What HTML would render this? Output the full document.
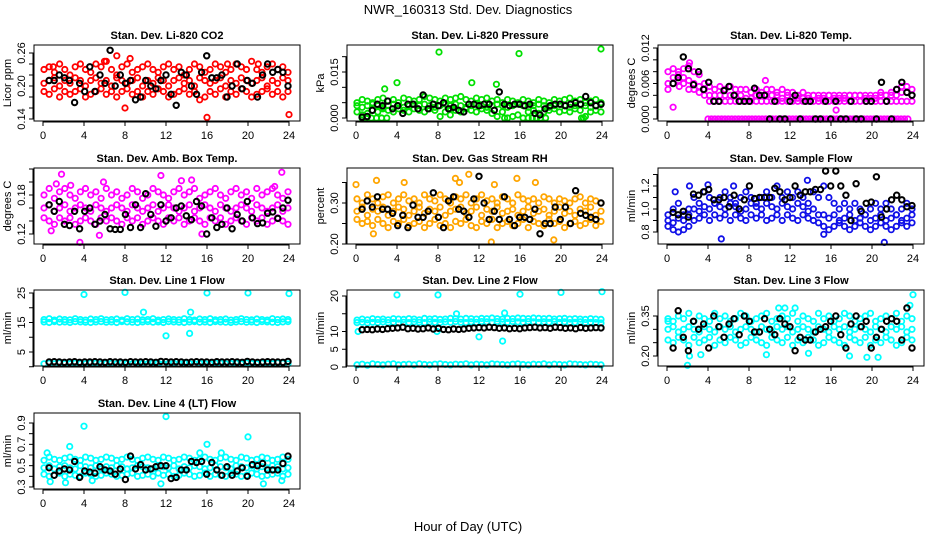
<!DOCTYPE html>
<html><head><meta charset="utf-8"><style>
html,body{margin:0;padding:0;background:#fff;}
svg{display:block;font-family:"Liberation Sans",sans-serif;}
</style></head><body>
<svg id="chart" width="936" height="540" viewBox="0 0 936 540" xmlns="http://www.w3.org/2000/svg">
<rect x="0" y="0" width="936" height="540" fill="#fff"/>
<text x="468" y="14" font-size="13" text-anchor="middle">NWR_160313  Std. Dev. Diagnostics</text>
<text x="468" y="531" font-size="13" text-anchor="middle">Hour of Day (UTC)</text>
</svg>
<script>
const xTicks = [0,4,8,12,16,20,24];

const co2Hi = [0.23,0.235,0.225,0.24,0.23,0.22,0.235,0.24,0.23,0.225,0.24,0.235,0.245,0.23,0.22,0.235,0.24,0.225,0.23,0.235,0.24,0.23,0.225,0.235,0.24,0.23,0.235,0.22,0.23,0.24,0.235,0.225,0.23,0.24,0.235,0.225,0.23,0.24,0.235,0.23,0.245,0.23,0.225,0.235,0.24,0.23,0.235,0.225];
const co2Mid = [0.205,0.21,0.215,0.2,0.21,0.205,0.215,0.21,0.2,0.21,0.215,0.205,0.21,0.2,0.215,0.21,0.205,0.21,0.215,0.2,0.21,0.205,0.215,0.21,0.2,0.21,0.215,0.205,0.21,0.2,0.215,0.21,0.205,0.21,0.215,0.2,0.21,0.205,0.215,0.21,0.205,0.21,0.215,0.2,0.21,0.205,0.215,0.21];
const co2Lo = [0.19,0.185,0.195,0.18,0.19,0.185,0.19,0.195,0.18,0.185,0.19,0.195,0.185,0.19,0.18,0.19,0.195,0.185,0.19,0.18,0.19,0.185,0.195,0.19,0.18,0.185,0.19,0.195,0.185,0.19,0.175,0.18,0.19,0.185,0.195,0.18,0.19,0.185,0.195,0.19,0.18,0.185,0.19,0.195,0.185,0.19,0.18,0.19];
const co2OutX = [16,24,8,7.2,6,8.5,1,21,18];
const co2OutY = [0.143,0.148,0.16,0.255,0.245,0.25,0.235,0.24,0.24];
const co2Ref = [0.21,0.21,0.22,0.215,0.21,0.17,0.205,0.19,0.235,0.19,0.22,0.205,0.265,0.2,0.22,0.205,0.21,0.175,0.18,0.21,0.2,0.195,0.21,0.22,0.185,0.165,0.225,0.22,0.2,0.185,0.225,0.255,0.215,0.215,0.22,0.18,0.2,0.24,0.195,0.21,0.205,0.18,0.22,0.24,0.225,0.23,0.225,0.2];

const presHi = [0.005,0.006,0.0055,0.005,0.006,0.0065,0.0055,0.006,0.005,0.0065,0.006,0.0055,0.006,0.007,0.0065,0.006,0.0055,0.0065,0.006,0.0065,0.007,0.006,0.0055,0.0065,0.006,0.0065,0.0055,0.006,0.005,0.006,0.0055,0.005,0.006,0.0055,0.005,0.006,0.0055,0.005,0.006,0.0055,0.006,0.0065,0.0055,0.006,0.005,0.0055,0.006,0.005];
const presMid = [0.004,0.0035,0.004,0.0045,0.004,0.0035,0.004,0.0045,0.004,0.0035,0.004,0.0045,0.004,0.0045,0.004,0.0035,0.004,0.0045,0.004,0.0045,0.004,0.0035,0.004,0.0045,0.004,0.0035,0.004,0.0045,0.004,0.0035,0.004,0.0045,0.004,0.0035,0.004,0.0045,0.004,0.0035,0.004,0.0045,0.004,0.0035,0.004,0.0045,0.004,0.0035,0.004,0.0045];
const presLo = [0.002,0.001,0.0015,0.0025,0.002,0.003,0.0025,0.002,0.003,0.0025,0.002,0.003,0.0025,0.002,0.003,0.0025,0.0005,0.002,0.003,0.0025,0.002,0.003,0.0025,0.002,0.003,0.0025,0.0015,0.0005,0.002,0,0.0005,0.001,0,0.002,0.0025,0.0015,0.002,0.0025,0.003,0.002,0.0025,0.002,0.003,0.0025,0.0005,0.002,0.0025,0.002];
const presOutX = [0.6,1,1.5,2,2.5,3,14.5,16.8,17.2,17.6,18,18.5,22,22.2,8.1,15.9,23.9,4,11.3,13.7,2.8,9.2];
const presOutY = [0,0,0,0,0,0,0,0,0,0,0,0,0,0,0.0215,0.021,0.0225,0.0115,0.0115,0.011,0.0095,0.001];
const presRef = [0.0003,0.0005,0.0025,0.0045,0.004,0.0055,0.003,0.004,0.0015,0.0045,0.0045,0.003,0.0075,0.003,0.0045,0.004,0.005,0.003,0.0035,0.0025,0.002,0.0045,0.0045,0.004,0.0045,0.0045,0.0025,0.0085,0.0045,0.004,0.0045,0.0045,0.004,0.0045,0.0015,0.001,0.003,0.004,0.0045,0.0045,0.004,0.0045,0.005,0.0045,0.007,0.005,0.004,0.0045];

const tempHi = [0.008,0.0085,0.008,0.0085,0.009,0.008,0.0075,0.006,0.0055,0.005,0.0055,0.005,0.0055,0.005,0.005,0.005,0.0045,0.005,0.0045,0.005,0.005,0.0045,0.005,0.0045,0.0045,0.004,0.0045,0.004,0.004,0.004,0.004,0.004,0.004,0.004,0.004,0.004,0.004,0.004,0.004,0.004,0.004,0.0045,0.004,0.0045,0.005,0.0055,0.0055,0.005];
const tempMid = [0.006,0.007,0.0075,0.007,0.0065,0.006,0.0055,0.005,0.004,0.004,0.004,0.004,0.004,0.004,0.004,0.0035,0.0035,0.004,0.004,0.004,0.004,0.004,0.0035,0.004,0.0035,0.0035,0.0035,0.0035,0.004,0.0035,0.0035,0.004,0.0035,0.0035,0.0035,0.004,0.004,0.004,0.0035,0.0035,0.0035,0.004,0.004,0.004,0.004,0.0045,0.0045,0.004];
const tempLo = [0.005,0.006,0.0065,0.006,0.005,0.005,0.0045,0.004,0.003,0.003,0.003,0.003,0.003,0.003,0.003,0.003,0.003,0.003,0.003,0.003,0.003,0.003,0.003,0.003,0.003,0.003,0.003,0.003,0.003,0.003,0.003,0.003,0.003,0.003,0.003,0.003,0.003,0.003,0.003,0.003,0.003,0.003,0.003,0.003,0.003,0.003,0.003,0.003];
const tempZero = [0,0,0,0,0,0,0,0,0,0,0,0,0,0,0,0,0,0,0,0,0,0,0,0,0,0,0,0,0,0,0,0,0,0,0,0,0,0,0,0,0,0,0,0,0,0,0,0,0,0,0,0,0,0,0,0,0,0,0,0];
const tempOutX = [0.6,9.6,16.5,2.2,1.2];
const tempOutY = [0.002,0.0065,0.0015,0.0095,0.0055];
const tempRef = [0.006,0.007,0.0105,0.0085,0.0058,0.008,0.005,0.0062,0.003,0.003,0.0048,0.0055,0.004,0.003,0.003,0.003,0.0052,0.004,0.004,0,0.003,0,0,0.003,0.004,0,0.003,0.003,0,0,0.003,0,0.003,0,0,0.003,0,0,0.003,0.003,0,0.0062,0.003,0,0.005,0.0062,0.0045,0.004];

const ambHi = [0.18,0.19,0.175,0.185,0.19,0.18,0.175,0.185,0.19,0.18,0.185,0.175,0.19,0.18,0.185,0.175,0.18,0.19,0.185,0.175,0.18,0.19,0.185,0.18,0.175,0.185,0.19,0.18,0.185,0.19,0.175,0.18,0.185,0.19,0.18,0.175,0.185,0.19,0.18,0.185,0.175,0.19,0.18,0.185,0.19,0.18,0.175,0.185];
const ambMid = [0.16,0.165,0.155,0.16,0.165,0.155,0.16,0.165,0.16,0.155,0.165,0.16,0.155,0.16,0.165,0.16,0.155,0.165,0.16,0.155,0.16,0.165,0.155,0.16,0.165,0.16,0.155,0.16,0.165,0.155,0.16,0.165,0.16,0.155,0.165,0.16,0.155,0.16,0.165,0.16,0.155,0.165,0.16,0.155,0.16,0.165,0.155,0.16];
const ambLo = [0.145,0.14,0.135,0.145,0.14,0.145,0.135,0.14,0.145,0.14,0.135,0.145,0.14,0.145,0.14,0.135,0.145,0.14,0.145,0.135,0.14,0.145,0.14,0.135,0.145,0.14,0.145,0.135,0.14,0.145,0.14,0.135,0.145,0.14,0.145,0.135,0.14,0.145,0.14,0.135,0.145,0.14,0.145,0.135,0.14,0.145,0.14,0.135];
const ambOutX = [1.8,11.5,23.3,3.6,5.5,15.5,2.7,1.3,14.5,5.9,13.5,22.6,0.8];
const ambOutY = [0.212,0.21,0.215,0.107,0.118,0.12,0.195,0.197,0.203,0.2,0.202,0.193,0.125];
const ambRef = [0.165,0.155,0.17,0.135,0.133,0.155,0.128,0.155,0.16,0.135,0.14,0.15,0.128,0.127,0.127,0.15,0.13,0.165,0.13,0.182,0.15,0.132,0.165,0.14,0.145,0.16,0.163,0.148,0.142,0.17,0.163,0.12,0.145,0.13,0.135,0.16,0.128,0.15,0.14,0.17,0.145,0.136,0.137,0.152,0.154,0.144,0.16,0.172];

const rhHi = [0.31,0.3,0.32,0.31,0.3,0.315,0.32,0.3,0.31,0.32,0.305,0.31,0.3,0.32,0.31,0.305,0.32,0.31,0.3,0.315,0.31,0.32,0.3,0.31,0.32,0.305,0.31,0.3,0.315,0.31,0.3,0.32,0.31,0.305,0.31,0.3,0.315,0.31,0.3,0.31,0.305,0.3,0.31,0.315,0.3,0.31,0.305,0.3];
const rhMid = [0.28,0.29,0.27,0.285,0.28,0.29,0.27,0.28,0.29,0.285,0.27,0.28,0.29,0.275,0.285,0.28,0.29,0.27,0.28,0.285,0.29,0.275,0.28,0.29,0.27,0.285,0.28,0.29,0.275,0.28,0.285,0.27,0.28,0.29,0.275,0.28,0.285,0.27,0.28,0.29,0.275,0.28,0.27,0.285,0.28,0.29,0.27,0.28];
const rhLo = [0.26,0.25,0.255,0.245,0.26,0.25,0.24,0.255,0.25,0.26,0.245,0.25,0.255,0.24,0.25,0.26,0.245,0.25,0.24,0.255,0.25,0.26,0.245,0.24,0.255,0.25,0.26,0.24,0.25,0.255,0.245,0.25,0.26,0.24,0.255,0.25,0.245,0.26,0.25,0.255,0.24,0.25,0.255,0.245,0.25,0.26,0.245,0.255];
const rhOutX = [11,9.7,15.7,13.2,19.3,0,2,4.7,1.7,13.5,17.5,10.1];
const rhOutY = [0.37,0.36,0.36,0.205,0.21,0.345,0.355,0.35,0.225,0.345,0.35,0.35];
const rhRef = [0.285,0.305,0.29,0.315,0.285,0.285,0.275,0.245,0.27,0.24,0.295,0.265,0.265,0.28,0.325,0.265,0.24,0.305,0.315,0.285,0.28,0.265,0.31,0.365,0.3,0.26,0.28,0.26,0.315,0.26,0.245,0.265,0.265,0.26,0.285,0.225,0.25,0.25,0.29,0.26,0.29,0.25,0.33,0.275,0.27,0.265,0.26,0.3];

const flowHi = [0.95,1.0,1.05,0.95,1.0,1.1,1.05,1.15,1.1,1.05,1.1,1.15,1.1,1.05,1.1,1.15,1.1,1.05,1.1,1.15,1.1,1.2,1.1,1.15,1.1,1.15,1.1,1.05,1.15,1.1,1.2,1.1,1.05,1.0,1.05,1.0,1.05,1.0,0.95,1.0,1.05,1.0,1.05,1.0,0.95,1.0,1.05,1.0];
const flowMid = [0.9,0.88,0.92,0.9,0.95,1.0,0.98,1.02,1.0,1.05,1.02,1.0,1.05,1.02,0.98,1.0,1.05,1.02,1.0,1.05,1.02,1.0,1.05,1.02,1.0,1.05,1.02,0.98,1.0,0.95,0.95,0.92,0.95,0.9,0.92,0.95,0.9,0.92,0.95,0.9,0.92,0.95,0.9,0.92,0.95,0.9,0.92,0.95];
const flowLo = [0.85,0.82,0.8,0.82,0.85,0.9,0.92,0.95,0.9,0.95,0.92,0.95,0.9,0.95,0.92,0.9,0.95,0.92,0.95,0.9,0.92,0.95,0.9,0.95,0.92,0.9,0.95,0.92,0.9,0.88,0.85,0.82,0.85,0.88,0.85,0.82,0.85,0.88,0.85,0.82,0.85,0.88,0.85,0.82,0.85,0.88,0.85,0.88];
const flowOutX = [5.3,21.2,15.3,0.8,2.2,6.5,13.7,4];
const flowOutY = [0.74,0.71,0.78,1.15,1.2,1.2,1.25,1.21];
const flowRef = [0.97,0.95,0.98,0.93,1.13,1.12,1.15,1.17,1.08,1.08,1.1,1.02,1.12,1.0,1.08,1.2,1.09,1.1,1.1,1.1,1.18,1.15,1.08,1.1,1.2,1.12,1.15,1.15,1.17,1.17,1.33,1.2,1.33,1.2,1.12,0.9,1.22,0.98,1.05,1.06,1.28,0.93,1.0,1.08,1.12,1.08,1.02,1.03];

const l1Hi = [16,16.3,15.8,16.2,16,15.9,16.3,16,15.8,16.2,16,16.3,15.9,16,16.2,15.8,16.3,16,16.2,15.9,16,16.3,15.8,16,16.2,16,15.9,16.3,16,15.8,16.2,16,16.3,15.9,16,16.2,15.8,16,16.3,16,15.9,16.2,16,15.8,16.3,16,16.2,16];
const l1Mid = [15.2,15,15.3,15.1,15.2,15,15.3,15.2,15.1,15,15.2,15.3,15.1,15.2,15,15.3,15.2,15.1,15,15.2,15.3,15.1,15.2,15,15.3,15.2,15.1,15,15.2,15.3,15.1,15.2,15,15.3,15.2,15.1,15,15.2,15.3,15.1,15.2,15,15.3,15.2,15.1,15,15.2,15.3];
const l1Lo = [1,1.2,1,1.3,1.1,1,1.2,1.1,1,1.3,1.2,1,1.1,1.2,1,1.3,1.1,1,1.2,1.1,1,1.3,1.2,1,1.1,1.2,1,1.3,1.1,1,1.2,1.1,1,1.3,1.2,1,1.1,1.2,1,1.3,1.1,1,1.2,1.1,1,1.3,1.2,1];
const l1OutX = [4,8,16,20,24,9.8,14.4,12,14.3];
const l1OutY = [24.5,25.2,25,25,24.8,18.5,18.5,10.5,11.3];
const l1Ref = [1.6,1.7,1.6,1.5,1.6,1.7,1.5,1.6,1.6,1.7,1.6,1.5,1.7,1.6,1.6,1.5,1.7,1.6,1.6,1.7,1.6,1.5,1.8,1.7,1.6,1.7,1.6,1.5,1.6,1.7,1.6,1.6,1.5,1.7,1.6,1.6,1.7,1.6,1.5,1.8,1.6,1.5,1.6,1.7,1.6,1.6,1.5,1.8];

const l2Hi = [13.2,13.5,13.3,13.6,13.4,13.5,13.3,13.6,13.5,13.4,13.6,13.5,13.3,13.7,13.5,13.6,13.4,13.5,13.7,13.6,13.5,13.7,13.6,13.5,13.7,13.6,13.8,13.6,13.5,13.7,13.6,13.8,13.7,13.6,13.8,13.7,13.6,13.7,13.5,13.6,13.7,13.5,13.6,13.5,13.4,13.6,13.5,13.4];
const l2Mid = [12.5,12.6,12.4,12.6,12.5,12.7,12.5,12.6,12.4,12.6,12.5,12.7,12.6,12.5,12.7,12.6,12.5,12.7,12.6,12.8,12.6,12.5,12.7,12.6,12.8,12.7,12.6,12.8,12.7,12.6,12.8,12.7,12.6,12.8,12.7,12.6,12.7,12.6,12.8,12.6,12.7,12.5,12.6,12.7,12.5,12.6,12.5,12.4];
const l2Lo = [0.6,0.8,0.5,0.9,0.7,0.6,0.8,0.9,0.6,0.7,0.8,0.6,0.9,0.7,0.6,0.8,0.9,0.7,0.6,0.8,0.7,0.9,0.6,0.8,0.7,0.6,0.9,0.8,0.7,0.6,0.8,0.9,0.7,0.6,0.8,0.7,0.9,0.6,0.8,0.7,0.6,0.9,0.8,0.7,0.6,0.8,0.7,0.6];
const l2OutX = [4,8,16,20,24,9.8,14.5,12,14.3,0.2,7.9];
const l2OutY = [20.3,20.3,20.5,21,21.2,15,15.2,8.5,7.3,10,10];
const l2Ref = [10.5,10.6,10.5,10.7,10.6,10.8,10.9,11,11.2,10.8,10.9,10.7,10.8,11,10.7,10.9,10.6,10.5,10.7,10.6,10.7,10.9,11,11.1,11,11.2,11.1,10.9,11,10.8,10.9,10.8,11,11.1,11.2,11,11.1,10.9,11.2,11.1,10.9,11,10.8,11.1,10.9,11,11.1,11];

const l3Hi = [0.34,0.33,0.35,0.34,0.36,0.33,0.35,0.34,0.33,0.36,0.34,0.35,0.33,0.34,0.36,0.35,0.33,0.34,0.35,0.36,0.33,0.34,0.35,0.34,0.36,0.33,0.35,0.34,0.33,0.36,0.34,0.35,0.33,0.34,0.36,0.35,0.33,0.34,0.35,0.36,0.33,0.34,0.35,0.34,0.36,0.33,0.35,0.34];
const l3Mid = [0.3,0.31,0.29,0.3,0.31,0.3,0.29,0.31,0.3,0.29,0.31,0.3,0.31,0.29,0.3,0.31,0.3,0.29,0.31,0.3,0.29,0.31,0.3,0.31,0.29,0.3,0.31,0.3,0.29,0.31,0.3,0.29,0.31,0.3,0.31,0.29,0.3,0.31,0.3,0.29,0.31,0.3,0.29,0.31,0.3,0.31,0.29,0.3];
const l3Lo = [0.26,0.25,0.27,0.26,0.24,0.27,0.25,0.26,0.27,0.24,0.26,0.25,0.27,0.26,0.24,0.25,0.27,0.26,0.25,0.24,0.27,0.26,0.25,0.27,0.24,0.26,0.25,0.27,0.26,0.24,0.25,0.27,0.26,0.25,0.24,0.27,0.26,0.25,0.27,0.24,0.26,0.25,0.27,0.26,0.24,0.25,0.27,0.26];
const l3OutX = [2,2.2,3.3,9.7,11.5,12.5,13.8,17.8,19.5,20.6,24,23.7,10.9,0.1];
const l3OutY = [0.165,0.2,0.205,0.205,0.38,0.38,0.21,0.2,0.195,0.195,0.43,0.39,0.38,0.33];
const l3Ref = [0.23,0.37,0.27,0.22,0.33,0.3,0.32,0.23,0.35,0.31,0.27,0.32,0.34,0.28,0.35,0.33,0.29,0.29,0.34,0.3,0.28,0.34,0.32,0.31,0.22,0.27,0.26,0.26,0.29,0.3,0.31,0.33,0.35,0.28,0.23,0.32,0.35,0.31,0.33,0.23,0.27,0.3,0.33,0.34,0.33,0.26,0.38,0.23];

const l4Hi = [0.55,0.58,0.56,0.55,0.57,0.58,0.56,0.55,0.58,0.57,0.55,0.56,0.58,0.57,0.55,0.56,0.58,0.56,0.55,0.57,0.58,0.56,0.55,0.58,0.57,0.55,0.56,0.58,0.57,0.55,0.56,0.58,0.56,0.55,0.57,0.58,0.56,0.55,0.58,0.57,0.55,0.56,0.58,0.57,0.55,0.56,0.58,0.56];
const l4Mid = [0.48,0.5,0.47,0.49,0.5,0.48,0.47,0.5,0.49,0.48,0.5,0.47,0.49,0.48,0.5,0.49,0.47,0.48,0.5,0.49,0.48,0.47,0.5,0.49,0.48,0.5,0.47,0.49,0.48,0.5,0.49,0.47,0.48,0.5,0.49,0.48,0.47,0.5,0.49,0.48,0.5,0.47,0.49,0.48,0.5,0.49,0.47,0.48];
const l4Lo = [0.42,0.4,0.41,0.43,0.4,0.42,0.41,0.4,0.43,0.42,0.4,0.41,0.43,0.42,0.4,0.41,0.42,0.43,0.4,0.41,0.42,0.4,0.43,0.41,0.42,0.4,0.41,0.43,0.42,0.4,0.41,0.43,0.4,0.42,0.41,0.4,0.43,0.42,0.4,0.41,0.43,0.42,0.4,0.41,0.42,0.43,0.4,0.42];
const l4OutX = [12,4,20,2.6,16,0.4,0.7,2.2,4.8,11.5,21.5,23.3,15.3,17.4];
const l4OutY = [0.96,0.87,0.77,0.68,0.7,0.62,0.35,0.34,0.36,0.33,0.33,0.36,0.62,0.62];
const l4Ref = [0.48,0.41,0.45,0.47,0.46,0.54,0.39,0.45,0.44,0.43,0.49,0.46,0.45,0.42,0.47,0.37,0.59,0.47,0.51,0.46,0.47,0.49,0.5,0.5,0.38,0.39,0.46,0.46,0.54,0.53,0.54,0.42,0.53,0.46,0.41,0.49,0.41,0.45,0.48,0.4,0.51,0.5,0.52,0.46,0.46,0.46,0.52,0.59];

const NS = 'http://www.w3.org/2000/svg';
const svg = document.getElementById('chart');
function mk(tag, attrs, parent){ const e=document.createElementNS(NS,tag); for(const k in attrs) e.setAttribute(k,attrs[k]); (parent||svg).appendChild(e); return e; }

const colL=[34,347,658], rowT=[45,168,290,413], BW=266, BH=76;
const panels = [
 {key:'co2',title:'Stan. Dev. Li-820 CO2',ylab:'Licor ppm',c:0,r:0,col:'#ff0000',map:[0.26,53,0.14,119],ticks:[0.14,0.16,0.18,0.2,0.22,0.24,0.26],labels:[[0.14,'0.14'],[0.2,'0.20'],[0.26,'0.26']],ser:[co2Hi,co2Mid,co2Lo],ox:co2OutX,oy:co2OutY,ref:co2Ref},
 {key:'pressure',title:'Stan. Dev. Li-820 Pressure',ylab:'kPa',c:1,r:0,col:'#00e000',map:[0.015,72,0,118],ticks:[0,0.005,0.01,0.015,0.02],labels:[[0,'0.000'],[0.015,'0.015']],ser:[presHi,presMid,presLo],ox:presOutX,oy:presOutY,ref:presRef},
 {key:'temp',title:'Stan. Dev. Li-820 Temp.',ylab:'degrees C',c:2,r:0,col:'#ff00ff',map:[0.012,48,0,119],ticks:[0,0.002,0.004,0.006,0.008,0.01,0.012],labels:[[0,'0.000'],[0.006,'0.006'],[0.012,'0.012']],ser:[tempHi,tempMid,tempLo],zero:tempZero,ox:tempOutX,oy:tempOutY,ref:tempRef},
 {key:'ambtemp',title:'Stan. Dev. Amb. Box Temp.',ylab:'degrees C',c:0,r:1,col:'#ff00ff',map:[0.18,195,0.12,234],ticks:[0.12,0.14,0.16,0.18,0.2,0.22],labels:[[0.12,'0.12'],[0.18,'0.18']],ser:[ambHi,ambMid,ambLo],ox:ambOutX,oy:ambOutY,ref:ambRef},
 {key:'rh',title:'Stan. Dev. Gas Stream RH',ylab:'percent',c:1,r:1,col:'#ffa500',map:[0.3,203,0.2,244],ticks:[0.2,0.25,0.3,0.35],labels:[[0.2,'0.20'],[0.3,'0.30']],ser:[rhHi,rhMid,rhLo],ox:rhOutX,oy:rhOutY,ref:rhRef},
 {key:'sampleflow',title:'Stan. Dev. Sample Flow',ylab:'ml/min',c:2,r:1,col:'#1010e8',map:[1.2,186,0.8,232],ticks:[0.8,0.9,1.0,1.1,1.2,1.3],labels:[[0.8,'0.8'],[1.0,'1.0'],[1.2,'1.2']],ser:[flowHi,flowMid,flowLo],ox:flowOutX,oy:flowOutY,ref:flowRef},
 {key:'line1',title:'Stan. Dev. Line 1 Flow',ylab:'ml/min',c:0,r:2,col:'#00ffff',map:[25,293,5,352],ticks:[0,5,10,15,20,25],labels:[[5,'5'],[15,'15'],[25,'25']],ser:[l1Hi,l1Mid,l1Lo],ox:l1OutX,oy:l1OutY,ref:l1Ref},
 {key:'line2',title:'Stan. Dev. Line 2 Flow',ylab:'ml/min',c:1,r:2,col:'#00ffff',map:[20,296,0,367],ticks:[0,5,10,15,20],labels:[[0,'0'],[5,'5'],[10,'10'],[20,'20']],ser:[l2Hi,l2Mid,l2Lo],ox:l2OutX,oy:l2OutY,ref:l2Ref},
 {key:'line3',title:'Stan. Dev. Line 3 Flow',ylab:'ml/min',c:2,r:2,col:'#00ffff',map:[0.35,316,0.2,356],ticks:[0.2,0.25,0.3,0.35],labels:[[0.2,'0.20'],[0.35,'0.35']],ser:[l3Hi,l3Mid,l3Lo],ox:l3OutX,oy:l3OutY,ref:l3Ref},
 {key:'line4',title:'Stan. Dev. Line 4 (LT) Flow',ylab:'ml/min',c:0,r:3,col:'#00ffff',map:[0.9,423,0.3,487],ticks:[0.3,0.4,0.5,0.6,0.7,0.8,0.9],labels:[[0.3,'0.3'],[0.5,'0.5'],[0.7,'0.7'],[0.9,'0.9']],ser:[l4Hi,l4Mid,l4Lo],ox:l4OutX,oy:l4OutY,ref:l4Ref}
];

function ring(g, x, y, col, sw){
  const c = mk('circle',{cx:x.toFixed(1),cy:y.toFixed(1),r:2.7,fill:'none',stroke:col,'stroke-width':sw||1.8},g);
  
  
}

panels.forEach(p=>{
  const L=colL[p.c], T=rowT[p.r];
  const xS = h => L+9 + h/24*246;
  const yS = v => p.map[1] + (v-p.map[0])*(p.map[3]-p.map[1])/(p.map[2]-p.map[0]);
  const g = mk('g',{});
  
  
  const t = mk('text',{x:L+BW/2,y:T-6,'font-size':11,'font-weight':'bold','text-anchor':'middle'},g);
  t.textContent=p.title;
  
  
  const yl = mk('text',{x:0,y:0,'font-size':11,'text-anchor':'middle',transform:`translate(${L-23},${T+BH/2}) rotate(-90)`},g);
  yl.textContent=p.ylab;
  
  
  const cl = mk('g',{},g);
  
  
  p.ser.forEach(arr=>{ arr.forEach((v,i)=>ring(cl, xS(0.1+i*23.8/(arr.length-1)), yS(v), p.col)); });
  if(p.zero){ p.zero.forEach((v,i)=>ring(cl, xS(4+i*19.5/(p.zero.length-1)), yS(v), p.col)); }
  p.ox.forEach((h,i)=>ring(cl, xS(h), yS(p.oy[i]), p.col));
  const rg = mk('g',{},g);
  
  
  p.ref.forEach((v,i)=>ring(rg, xS(0.6+i*23.3/(p.ref.length-1)), yS(v), '#000', 2));
  const b = mk('rect',{x:L,y:T,width:BW,height:BH,fill:'none',stroke:'#000','stroke-width':1},g);
  
  
  const xa = mk('g',{},g);
  
  
  mk('line',{x1:xS(0),x2:xS(24),y1:T+BH+1,y2:T+BH+1,stroke:'#000'},xa);
  xTicks.forEach(h=>{
    mk('line',{x1:xS(h),x2:xS(h),y1:T+BH,y2:T+BH+5,stroke:'#000'},xa);
    const tx = mk('text',{x:xS(h),y:T+BH+18,'font-size':11,'text-anchor':'middle'},xa);
    tx.textContent=h;
    
    
  });
  const ya = mk('g',{},g);
  
  
  mk('line',{x1:L-1,x2:L-1,y1:yS(p.ticks[0]),y2:yS(p.ticks[p.ticks.length-1]),stroke:'#000'},ya);
  p.ticks.forEach(v=>mk('line',{x1:L-5,x2:L,y1:yS(v),y2:yS(v),stroke:'#000'},ya));
  p.labels.forEach(([v,s])=>{
    const ty = mk('text',{x:0,y:0,'font-size':11,'text-anchor':'middle',transform:`translate(${L-9},${yS(v)}) rotate(-90)`},ya);
    ty.textContent=s;
    
    
  });
});
</script>
</body></html>
